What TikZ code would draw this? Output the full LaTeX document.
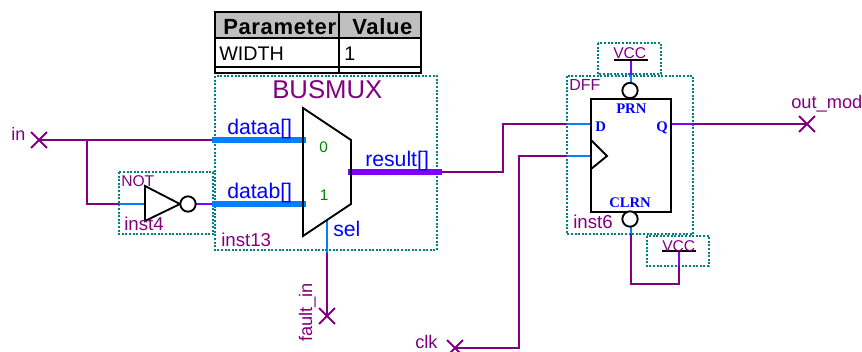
\documentclass[tikz,border=0pt]{standalone}
\usepackage{fontspec}
\setmainfont{Liberation Sans}
\newfontfamily\pinfont{Liberation Serif}[BoldFont={* Bold}]
\newfontfamily\headfont{Liberation Sans}[LetterSpace=3]
\usetikzlibrary{shapes.misc}

\definecolor{wirepurple}{HTML}{800080}
\definecolor{wireblue}{HTML}{0080FF}
\definecolor{wireviolet}{HTML}{8000FF}
\definecolor{boxteal}{HTML}{008080}
\definecolor{pinblue}{HTML}{0000FF}
\definecolor{pingreen}{HTML}{008000}

\tikzset{
  wire/.style={wirepurple,line width=1.45pt},
  pinwire/.style={wireblue,line width=1.45pt},
  outwire/.style={wireviolet,line width=1.45pt},
  bus/.style={wireblue,line width=4.5pt},
  outbus/.style={wireviolet,line width=4.5pt},
  sym/.style={black,line width=1.4pt},
  inst/.style={boxteal,line width=1.4pt,dash pattern=on 1.5pt off 1.2pt},
  tab/.style={black,line width=1.7pt},
  bubble/.style={circle,draw=black,fill=white,line width=1.4pt,minimum size=11.5pt,inner sep=0pt},
  pinx/.style={cross out,draw=wirepurple,line width=1.45pt,minimum size=10.5pt,inner sep=0pt},
  lbl/.style={anchor=base west,inner sep=0pt,text=wirepurple},
  pinlbl/.style={anchor=base west,inner sep=0pt,text=pinblue,font=\fontsize{15.9}{18}\selectfont},
  ffpin/.style={inner sep=0pt,text=pinblue,font=\pinfont\bfseries\fontsize{11}{12}\selectfont},
}

\begin{document}
\begin{tikzpicture}[x=0.75pt,y=-0.75pt]
\useasboundingbox (0,0) rectangle (862,351);

% parameter table
\fill[gray!50] (215,12) rectangle (421,38);
\draw[tab] (215,12) rectangle (421,73);
\draw[tab] (215,38) -- (421,38);
\draw[tab] (215,67) -- (421,67);
\draw[tab] (339,12) -- (339,73);
\node[lbl,text=black,font=\headfont\bfseries\fontsize{16.5}{18}\selectfont] (param) at (223,34) {Parameter};
\node[lbl,text=black,font=\headfont\bfseries\fontsize{16.5}{18}\selectfont] (value) at (352,34) {Value};
\node[lbl,text=black,font=\fontsize{14.8}{18}\selectfont] (width) at (219,60) {WIDTH};
\node[lbl,text=black,font=\fontsize{14.8}{18}\selectfont] (widthval) at (344,60) {1};

% instance boxes
\draw[inst] (215,76) rectangle (437,250);
\draw[inst] (119,172) rectangle (213,234);
\draw[inst] (567,76) rectangle (693,234);
\draw[inst] (598,43) rectangle (661,74);
\draw[inst] (647,236) rectangle (709,266);

% pins
\node[pinx] (in) at (39,140) {};
\node[pinx] (faultin) at (327,316) {};
\node[pinx] (clk) at (455,348) {};
\node[pinx] (outmod) at (807,124) {};

% points on the wires
\coordinate (split) at (87,140);
\coordinate (notin) at (119,204);
\coordinate (notpin) at (145,204);
\coordinate (notout) at (213,204);
\coordinate (dataaend) at (306,140);
\coordinate (databend) at (306,204);
\coordinate (dataastart) at (212,140);
\coordinate (databstart) at (212,204);
\coordinate (resultstart) at (348,172);
\coordinate (resultend) at (442,172);
\coordinate (selpin) at (327,220);
\coordinate (selout) at (327,253);
\coordinate (dturn) at (503,172);
\coordinate (dedge) at (567,124);
\coordinate (dpin) at (591,124);
\coordinate (clkturn) at (519,348);
\coordinate (clkedge) at (567,156);
\coordinate (clkpin) at (591,156);
\coordinate (qpin) at (671,124);
\coordinate (qedge) at (693,124);
\coordinate (vcctop) at (631,60);
\coordinate (prnedge) at (631,75);
\coordinate (clrnedge) at (631,234);
\coordinate (clrnturn) at (631,284);
\coordinate (vccbot) at (679,251);
\coordinate (vccbotedge) at (679,266);

% wires
\draw[wire] (in.center) -- (dataastart);
\draw[wire] (split) |- (notin);
\draw[pinwire] (notin) -- (notpin);
\draw[outwire] (195,204) -- (notout);
\draw[pinwire] (selpin) -- (selout);
\draw[wire] (selout) -- (faultin.center);
\draw[wire] (resultend) -- (dturn) |- (dedge);
\draw[pinwire] (dedge) -- (dpin);
\draw[wire] (clk.center) -- (clkturn) |- (clkedge);
\draw[pinwire] (clkedge) -- (clkpin);
\draw[outwire] (qpin) -- (qedge);
\draw[wire] (qedge) -- (outmod.center);
\draw[outwire] (vcctop) -- (prnedge);
\draw[wire] (clrnedge) -- (clrnturn) -| (vccbotedge);
\draw[outwire] (vccbot) -- (vccbotedge);

% busmux
\draw[bus] (dataastart) -- (dataaend);
\draw[bus] (databstart) -- (databend);
\draw[outbus] (resultstart) -- (resultend);
\draw[sym] (303,108) -- (351,140) -- (351,204) -- (303,236) -- cycle;
\node[lbl,font=\fontsize{19.3}{22}\selectfont] (busmux) at (272,98) {BUSMUX};
\node[lbl,font=\fontsize{14}{16}\selectfont] (inst13) at (221,246) {inst13};
\node[pinlbl] (dataa) at (227,134) {dataa[]};
\node[pinlbl] (datab) at (227,198) {datab[]};
\node[pinlbl] (result) at (365,166) {result[]};
\node[pinlbl] (sel) at (333,236) {sel};
\node[lbl,text=pingreen,font=\fontsize{11.5}{14}\selectfont] (zero) at (319,152) {0};
\node[lbl,text=pingreen,font=\fontsize{11.5}{14}\selectfont] (one) at (319.5,200) {1};

% inverter
\draw[sym] (145,186) -- (180,204) -- (145,221) -- cycle;
\node[bubble] (notbub) at (188,204) {};
\node[lbl,font=\fontsize{11.7}{14}\selectfont] (nottxt) at (121,186) {NOT};
\node[lbl,font=\fontsize{14}{16}\selectfont] (inst4) at (124,230) {inst4};

% flip-flop
\draw[sym] (591,99) rectangle (671,212);
\draw[sym] (591,140) -- (607,156) -- (591,169);
\draw[pinwire] (prnedge) -- (631,84);
\draw[pinwire] (631,226) -- (clrnedge);
\node[bubble] (prnbub) at (630,90.5) {};
\node[bubble] (clrnbub) at (630,219) {};
\node[ffpin,anchor=base west] (prn) at (616,113) {PRN};
\node[ffpin,anchor=base west] (dlbl) at (595,131) {D};
\node[ffpin,anchor=base east] (qlbl) at (668,131) {Q};
\node[ffpin,anchor=base west] (clrn) at (609,207) {CLRN};
\node[lbl,font=\fontsize{12}{14}\selectfont] (dff) at (569,90) {DFF};
\node[lbl,font=\fontsize{14}{16}\selectfont] (inst6) at (573,228) {inst6};

% vcc
\draw[sym] (614,60) -- (648,60);
\draw[sym] (662,251) -- (696,251);
\node[lbl,font=\fontsize{11.7}{14}\selectfont] (vcca) at (613,58) {VCC};
\node[lbl,font=\fontsize{11.7}{14}\selectfont] (vccb) at (662,251) {VCC};

% pin names
\node[lbl,font=\fontsize{13.5}{14}\selectfont] (intxt) at (11,140) {in};
\node[lbl,font=\fontsize{13.7}{16}\selectfont,rotate=90] (faulttxt) at (312,342) {fault\_in};
\node[lbl,font=\fontsize{13.7}{16}\selectfont] (clktxt) at (415,348) {clk};
\node[lbl,font=\fontsize{13.7}{16}\selectfont] (outtxt) at (791,108) {out\_mod};
\end{tikzpicture}
\end{document}
